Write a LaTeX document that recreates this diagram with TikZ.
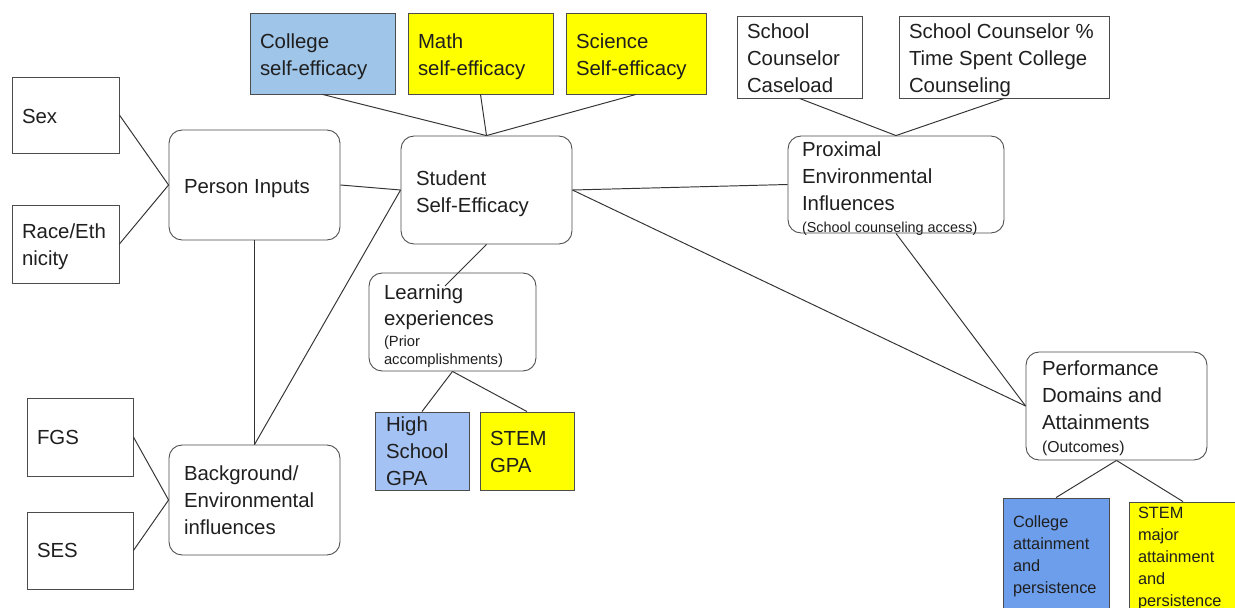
\documentclass[tikz,border=0pt]{standalone}
\usepackage{fontspec}
\setmainfont{Liberation Sans}
\definecolor{cblue}{HTML}{9FC5E8}
\definecolor{gblue}{HTML}{A4C2F4}
\definecolor{mblue}{HTML}{6D9EEB}
\definecolor{yel}{HTML}{FFFF00}
\newcommand\mainf{\fontsize{11.6}{15.3}\selectfont}
\newcommand\smallf{\fontsize{8.4}{10.2}\selectfont}
\newcommand\proxf{\fontsize{8.2}{10.2}\selectfont}
\newcommand\outf{\fontsize{9}{11}\selectfont}
\newcommand\botf{\fontsize{9.3}{12.5}\selectfont}
\begin{document}
\begin{tikzpicture}[x=0.02cm,y=-0.02cm,
  sq/.style={draw=black!70, line width=0.5pt, rectangle, inner xsep=0.2cm, inner ysep=0pt,
    align=flush left, font=\mainf, fill=white, text=black!88},
  rnd/.style={sq, rounded corners=0.26cm, inner xsep=0.3cm},
  dn/.style={execute at begin node={\rule{0pt}{#1}}},
  link/.style={draw=black!80, line width=0.55pt}]
\useasboundingbox (0,0) rectangle (1235,608);
\fill[white] (0,0) rectangle (1235,608);
\clip (0,0) rectangle (1235,608);

% left inputs
\node[sq, dn=9.6pt, text width=1.74cm, minimum height=1.52cm] (sex) at (65.5,115) {Sex};
\node[sq, dn=11.9pt, text width=1.74cm, minimum height=1.56cm] (race) at (65.5,244) {Race/Eth\\nicity};
\node[sq, text width=1.72cm, minimum height=1.56cm] (fgs) at (80,437) {FGS};
\node[sq, text width=1.72cm, minimum height=1.54cm] (ses) at (80,550.5) {SES};

% rounded main boxes
\node[rnd, dn=11.9pt, text width=2.82cm, minimum height=2.2cm] (person) at (254.5,185) {Person~Inputs};
\node[rnd, text width=2.82cm, minimum height=2.2cm] (backg) at (254.5,500) {Background/\\Environmental\\influences};
\node[rnd, dn=13pt, text width=2.82cm, minimum height=2.16cm] (student) at (486.5,190) {Student\\Self-Efficacy};
\node[rnd, dn=11pt, inner xsep=0.28cm, text width=3.76cm, minimum height=1.94cm] (prox) at (896,184.5)
  {Proximal\\Environmental\\Influences\\[-2.8pt]{\proxf\raisebox{0pt}[\height][0pt]{(School~counseling~access)}}};
\node[rnd, dn=13pt, text width=2.74cm, minimum height=1.96cm] (learn) at (452.5,322)
  {Learning\\experiences\\[-3.4pt]{\smallf(Prior}\\[-5.1pt]{\smallf accomplishments)}};
\node[rnd, dn=10.8pt, inner xsep=0.32cm, text width=2.98cm, minimum height=2.16cm] (perf) at (1116.5,406)
  {Performance\\Domains~and\\Attainments\\[-2.3pt]{\outf(Outcomes)}};

% top self-efficacy boxes
\node[sq, dn=11.9pt, fill=cblue, text width=2.5cm, minimum height=1.62cm] (college) at (322.5,53.5) {College\\self-efficacy};
\node[sq, dn=11.9pt, fill=yel, text width=2.5cm, minimum height=1.62cm] (math) at (480.5,53.5) {Math\\self-efficacy};
\node[sq, dn=11.9pt, fill=yel, text width=2.4cm, minimum height=1.62cm] (science) at (636,53.5) {Science\\Self-efficacy};

% counselor boxes
\node[sq, dn=9.6pt, text width=2.1cm, minimum height=1.64cm] (caseload) at (799.5,57) {School\\Counselor\\Caseload};
\node[sq, dn=11.9pt, text width=3.8cm, minimum height=1.64cm] (pct) at (1004,57) {School~Counselor~\%\\Time~Spent~College\\Counseling};

% GPA boxes
\node[sq, fill=gblue, inner xsep=0.22cm, text width=1.44cm, minimum height=1.56cm] (hsgpa) at (422,451) {High\\School\\GPA};
\node[sq, dn=9.6pt, fill=yel, text width=1.48cm, minimum height=1.56cm] (stemgpa) at (527,451) {STEM\\GPA};

% outcome boxes
\node[sq, dn=9.2pt, fill=mblue, font=\botf, text width=1.72cm, minimum height=2.24cm] (collatt) at (1056,554) {College\\attainment\\and\\persistence};
\node[sq, dn=9.2pt, fill=yel, font=\botf, inner xsep=0.18cm, text width=1.8cm, minimum height=2.16cm] (stemmaj) at (1183,556) {STEM\\major\\attainment\\and\\persistence};

% connectors
\coordinate (lp) at (445,286);
\draw[link] (sex.east) -- (person.west);
\draw[link] (race.east) -- (person.west);
\draw[link] (fgs.east) -- (backg.west);
\draw[link] (ses.east) -- (backg.west);
\draw[link] (person.south) -- (backg.north);
\draw[link] (backg.north) -- (student.west);
\draw[link] (person.east) -- (student.west);
\draw[link] (college.south) -- (student.north);
\draw[link] (math.south) -- (student.north);
\draw[link] (science.south) -- (student.north);
\draw[link] (student.east) -- (prox.west);
\draw[link] (student.east) -- (perf.west);
\draw[link] (prox.south) -- (perf.west);
\draw[link] (caseload.south) -- (prox.north);
\draw[link] (pct.south) -- (prox.north);
\draw[link] (student.south) -- (lp);
\draw[link] (learn.south) -- (hsgpa.north);
\draw[link] (learn.south) -- (stemgpa.north);
\draw[link] (perf.south) -- (collatt.north);
\draw[link] (perf.south) -- (stemmaj.north);
\end{tikzpicture}
\end{document}
